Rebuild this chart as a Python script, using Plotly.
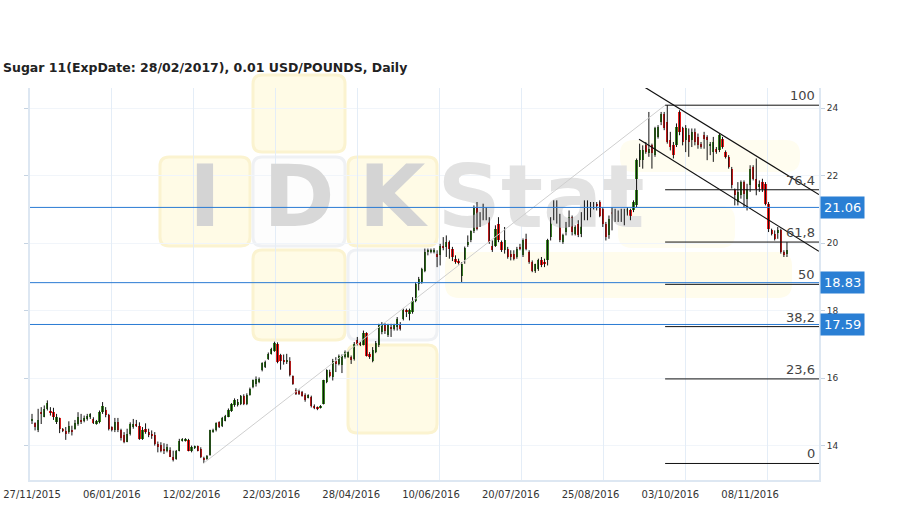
import plotly.graph_objects as go

TITLE = "Sugar 11(ExpDate: 28/02/2017), 0.01 USD/POUNDS, Daily"
tick_labels = ["27/11/2015", "06/01/2016", "12/02/2016", "22/03/2016", "28/04/2016",
               "10/06/2016", "20/07/2016", "25/08/2016", "03/10/2016", "08/11/2016"]
label_step = 26  # candles between date labels

opens = [14.74,14.66,14.45,14.99,14.84,15.09,15.04,14.99,14.69,14.81,
         14.50,14.42,14.40,14.47,14.50,14.64,14.76,14.72,14.79,14.84,
         14.79,14.64,14.69,14.99,15.06,14.91,14.55,14.47,14.69,14.45,
         14.30,14.12,14.35,14.55,14.64,14.57,14.20,14.50,14.40,14.35,
         14.32,14.05,14.03,13.90,13.85,13.88,13.67,13.61,13.85,14.13,
         14.15,14.18,13.83,13.95,13.98,13.90,13.64,13.61,13.73,14.40,
         14.45,14.69,14.57,14.74,14.86,15.02,15.19,15.20,15.24,15.46,
         15.24,15.51,15.73,15.83,15.88,16.23,16.33,16.57,16.72,16.80,
         17.00,16.68,16.55,16.50,16.52,16.05,15.65,15.63,15.58,15.51,
         15.44,15.45,15.18,15.13,15.12,15.24,15.88,16.17,16.03,16.52,
         16.42,16.38,16.62,16.64,16.62,16.57,17.12,17.03,16.99,17.33,
         16.72,16.52,16.77,16.97,17.36,17.56,17.27,17.50,17.46,17.51,
         17.56,17.76,18.03,17.91,17.96,18.30,18.80,18.85,19.19,19.74,
         19.75,19.74,19.67,19.64,19.93,19.89,20.03,19.84,19.54,19.47,
         19.04,19.49,19.94,20.08,20.35,21.07,20.53,20.97,20.97,20.72,
         19.93,19.93,20.58,20.03,19.79,19.84,19.69,19.69,19.59,19.89,
         19.64,20.13,19.74,19.44,19.19,19.24,19.49,19.44,19.49,20.18,
         20.72,20.97,20.82,20.03,20.33,20.53,20.77,20.28,20.58,20.28,
         20.87,21.17,20.82,21.07,21.15,21.22,21.02,20.58,20.23,20.92,
         20.92,20.68,20.87,20.63,20.87,20.97,20.97,21.12,22.46,22.46,
         22.90,22.66,22.90,22.61,23.15,23.60,23.84,23.60,23.05,22.90,
         22.90,23.89,23.40,23.05,23.20,23.05,23.30,23.15,22.95,23.20,
         23.15,22.90,22.70,22.80,22.75,23.10,22.70,22.56,22.21,21.57,
         21.22,21.42,21.81,21.32,21.72,22.26,21.91,21.67,21.81,21.76,
         21.17,20.38,20.28,20.33,20.38,19.74,19.69]

highs = [14.94,14.69,15.09,15.14,15.19,15.34,15.14,15.12,14.94,14.83,
         14.52,14.55,14.72,14.59,14.76,14.99,14.94,14.89,14.94,14.96,
         14.84,14.76,15.04,15.29,15.14,14.94,14.57,14.82,14.82,14.50,
         14.40,14.50,14.69,14.79,14.76,14.69,14.55,14.66,14.50,14.45,
         14.40,14.12,14.10,14.07,14.05,13.95,13.85,13.87,14.20,14.22,
         14.22,14.20,14.00,14.00,14.00,13.95,13.67,13.72,14.47,14.50,
         14.69,14.72,14.85,14.91,15.10,15.26,15.40,15.38,15.50,15.52,
         15.55,15.72,15.96,16.05,16.02,16.47,16.52,16.76,16.90,17.08,
         17.06,16.72,16.70,16.72,16.62,16.08,15.70,15.66,15.62,15.55,
         15.52,15.48,15.22,15.16,15.20,15.95,16.26,16.25,16.57,16.62,
         16.70,16.70,16.82,16.80,16.67,17.07,17.22,17.10,17.41,17.36,
         16.77,16.92,17.10,17.61,17.66,17.63,17.61,17.61,17.61,17.81,
         17.66,18.06,18.06,18.06,18.40,18.85,19.00,19.27,19.84,19.84,
         19.84,19.85,19.79,19.98,20.18,20.23,20.08,19.89,19.64,19.54,
         19.44,19.90,20.23,20.38,21.12,21.22,20.92,21.17,21.07,20.77,
         20.08,20.53,20.77,20.08,20.48,19.89,19.79,19.79,19.89,19.98,
         20.14,20.28,19.79,19.49,19.39,19.54,19.59,19.54,20.13,20.77,
         21.27,21.27,20.87,20.28,20.63,20.97,20.82,20.53,20.68,20.92,
         21.27,21.27,21.22,21.22,21.22,21.27,21.07,20.63,20.82,21.07,
         21.02,20.97,21.02,21.02,21.07,21.02,21.27,22.51,22.95,22.90,
         23.00,23.89,22.95,23.45,23.50,23.89,23.89,24.09,23.30,23.00,
         23.55,23.94,23.45,23.50,23.40,23.40,23.40,23.25,23.00,23.30,
         23.20,23.00,23.15,22.85,23.25,23.15,22.75,22.61,22.26,21.62,
         21.81,21.86,21.86,21.76,22.31,22.31,22.51,21.86,21.91,21.81,
         21.22,20.43,20.38,20.48,20.43,19.79,20.03]

lows = [14.64,14.45,14.40,14.64,14.84,15.04,14.89,14.76,14.64,14.37,
        14.40,14.17,14.35,14.30,14.47,14.59,14.64,14.69,14.74,14.79,
        14.64,14.62,14.66,14.94,14.84,14.45,14.42,14.40,14.40,14.15,
        14.07,14.10,14.30,14.50,14.55,14.17,14.17,14.35,14.25,14.20,
        14.00,13.80,13.80,13.75,13.80,13.66,13.53,13.58,13.83,14.12,
        14.12,13.83,13.80,13.90,13.83,13.63,13.48,13.58,13.70,14.38,
        14.42,14.52,14.55,14.72,14.84,15.00,15.15,15.16,15.20,15.20,
        15.20,15.48,15.70,15.75,15.85,16.20,16.30,16.54,16.70,16.78,
        16.44,16.25,16.40,16.42,16.05,15.80,15.50,15.50,15.45,15.30,
        15.40,15.13,15.08,15.05,15.10,15.22,15.85,16.02,15.93,16.18,
        16.38,16.15,16.58,16.60,16.42,16.52,16.97,16.95,16.97,16.64,
        16.57,16.47,16.74,16.92,17.30,17.31,17.22,17.22,17.41,17.41,
        17.41,17.71,17.81,17.71,17.91,18.25,18.60,18.80,19.14,19.64,
        19.70,19.70,19.29,19.34,19.79,19.59,19.54,19.47,19.39,19.37,
        18.85,19.39,19.89,20.03,20.30,20.38,20.48,20.68,20.68,19.98,
        19.74,19.89,20.03,19.74,19.69,19.54,19.49,19.49,19.54,19.79,
        19.59,19.79,19.39,19.14,19.12,19.18,19.29,19.29,19.34,20.08,
        20.68,20.58,20.03,19.98,20.23,20.48,20.23,20.23,20.18,20.18,
        20.68,20.68,20.77,21.00,20.97,20.77,20.48,20.08,20.13,20.38,
        20.63,20.63,20.63,20.53,20.82,20.68,20.92,21.07,22.26,22.21,
        22.65,22.56,22.21,22.56,23.10,23.50,23.35,22.95,22.75,22.51,
        22.85,23.20,22.90,22.70,22.56,22.85,22.90,22.80,22.80,22.80,
        22.46,22.61,22.41,22.65,22.70,22.80,22.51,22.21,21.62,21.12,
        21.12,21.32,21.07,20.97,21.52,21.86,21.42,21.52,21.52,21.12,
        20.33,20.23,20.08,20.13,19.69,19.59,19.59]

closes = [14.77,14.55,14.76,14.94,15.09,15.26,14.99,14.84,14.86,14.50,
          14.42,14.33,14.57,14.42,14.66,14.86,14.72,14.82,14.89,14.94,
          14.66,14.74,14.99,15.16,14.91,14.50,14.45,14.69,14.45,14.23,
          14.10,14.35,14.64,14.64,14.61,14.20,14.45,14.40,14.30,14.30,
          14.05,13.97,13.85,13.83,13.95,13.67,13.56,13.83,14.15,14.20,
          14.20,13.85,13.97,13.97,13.85,13.66,13.59,13.70,14.45,14.47,
          14.66,14.55,14.82,14.89,15.06,15.22,15.34,15.30,15.46,15.24,
          15.51,15.68,15.93,15.98,15.98,16.44,16.47,16.72,16.87,17.04,
          16.47,16.50,16.50,16.55,16.08,15.83,15.53,15.53,15.48,15.34,
          15.49,15.16,15.12,15.09,15.16,15.93,16.23,16.07,16.52,16.42,
          16.67,16.67,16.77,16.77,16.54,17.02,17.02,17.00,17.33,16.67,
          16.62,16.82,17.04,17.56,17.61,17.41,17.56,17.46,17.56,17.76,
          17.46,18.03,17.96,18.01,18.30,18.80,18.95,19.24,19.74,19.79,
          19.79,19.81,19.59,19.93,19.87,20.03,19.84,19.59,19.44,19.44,
          19.39,19.85,20.03,20.35,21.05,20.43,20.82,20.77,20.82,20.03,
          19.79,20.43,20.08,19.79,20.08,19.59,19.59,19.54,19.84,19.84,
          20.08,19.84,19.44,19.19,19.39,19.49,19.34,19.41,20.08,20.72,
          20.97,20.77,20.08,20.23,20.53,20.77,20.33,20.48,20.23,20.63,
          21.17,20.72,21.07,21.17,21.12,20.82,20.58,20.18,20.72,20.87,
          20.82,20.87,20.68,20.92,21.02,20.72,21.22,22.46,22.75,22.75,
          22.70,22.80,22.66,23.40,23.45,23.84,23.40,23.00,22.85,22.61,
          23.45,23.30,23.00,23.40,23.00,23.30,23.00,22.90,22.85,23.10,
          23.05,22.95,23.00,22.70,23.20,22.85,22.56,22.26,21.72,21.42,
          21.52,21.81,21.47,21.62,22.21,21.91,21.62,21.76,21.62,21.17,
          20.43,20.28,20.13,20.38,19.74,19.64,19.79]

assert len(opens) == len(highs) == len(lows) == len(closes)

level_values = [21.06, 18.83, 17.59]
fib_low, fib_high = 13.47, 24.09
fib_ratios = [0, 23.6, 38.2, 50, 61.8, 76.4, 100]
fib_start = 206.3
trend_x, trend_y = [55.8, 206.3], [13.47, 24.09]
upper_x, upper_y = [199.7, 256.4], [24.62, 21.44]
lower_x, lower_y = [197.8, 256.4], [23.08, 19.76]
y_ticks = [14, 16, 18, 20, 22, 24]

# ---------------- layout geometry ----------------
W, H = 909, 509
L, R, T, B = 30, 819, 88, 480
X_RANGE = [-0.652, 256.44]
Y_RANGE = [12.98, 24.60]
FONT = "DejaVu Sans"

n = len(opens)
idx = list(range(n))

def px2paper(px, py):
    return (px - L) / (R - L), (B - py) / (B - T)

def rrect(x0, y0, x1, y1, r=9):
    pts = [("M", [(x0 + r, y0)]), ("L", [(x1 - r, y0)]), ("Q", [(x1, y0), (x1, y0 + r)]),
           ("L", [(x1, y1 - r)]), ("Q", [(x1, y1), (x1 - r, y1)]), ("L", [(x0 + r, y1)]),
           ("Q", [(x0, y1), (x0, y1 - r)]), ("L", [(x0, y0 + r)]), ("Q", [(x0, y0), (x0 + r, y0)])]
    s = ""
    for cmd, ps in pts:
        s += cmd + " " + " ".join("%.5f,%.5f" % px2paper(a, b) for a, b in ps) + " "
    return s + "Z"

def px2data(px, py):
    i = X_RANGE[0] + (px - L) / (R - L) * (X_RANGE[1] - X_RANGE[0])
    v = Y_RANGE[1] - (py - T) / (B - T) * (Y_RANGE[1] - Y_RANGE[0])
    return i, v

fig = go.Figure()

# watermark letters (drawn first, below candles)
wm = [("I", 205, 204, 86, "#d4d4d4"), ("D", 299, 204, 86, "#d8d8d8"),
      ("K", 392, 204, 86, "#d4d4d4"), ("Stat", 541, 205, 88, "#e2e2e2")]
for t, px, py, sz, col in wm:
    xi, yv = px2data(px, py)
    fig.add_trace(go.Scatter(x=[xi], y=[yv], mode="text", text=[t], cliponaxis=False,
                             textfont=dict(family=FONT, size=sz, color=col, weight="bold"),
                             hoverinfo="skip", showlegend=False))

# wicks
wx, wy = [], []
for i in idx:
    wx += [i, i, None]
    wy += [lows[i], highs[i], None]
fig.add_trace(go.Scatter(x=wx, y=wy, mode="lines", line=dict(color="#111111", width=1),
                         hoverinfo="skip", showlegend=False))

# bodies
base = [min(o, c) for o, c in zip(opens, closes)]
hgt = [max(abs(c - o), 0.03) for o, c in zip(opens, closes)]
cols = ["#3b8a25" if c >= o else "#f01d1d" for o, c in zip(opens, closes)]
fig.add_trace(go.Bar(x=idx, y=hgt, base=base, width=0.72, marker=dict(color=cols, line=dict(width=0)),
                     showlegend=False, hoverinfo="skip"))

# gray trend line & channel
fig.add_trace(go.Scatter(x=trend_x, y=trend_y, mode="lines", line=dict(color="#cfcfcf", width=1),
                         showlegend=False, hoverinfo="skip"))
for xs, ys in [(upper_x, upper_y), (lower_x, lower_y)]:
    fig.add_trace(go.Scatter(x=xs, y=ys, mode="lines", line=dict(color="#111111", width=1.2),
                             showlegend=False, hoverinfo="skip"))

# fibonacci levels
annotations = []
for r in fib_ratios:
    lv = fib_low + (fib_high - fib_low) * r / 100.0
    fig.add_trace(go.Scatter(x=[fib_start, X_RANGE[1]], y=[lv, lv], mode="lines",
                             line=dict(color="#111111", width=1), showlegend=False, hoverinfo="skip"))
    lab = ("%g" % r).replace(".", ",")
    annotations.append(dict(x=1, xref="paper", y=lv, yref="y", text=lab, showarrow=False,
                            xanchor="right", yanchor="bottom", xshift=-2, yshift=0,
                            font=dict(family=FONT, size=13, color="#444444")))

# dummy trace for overlay axes (vertical grid + left ticks)
fig.add_trace(go.Scatter(x=[0], y=[20], xaxis="x2", yaxis="y2", mode="markers",
                         marker=dict(opacity=0), showlegend=False, hoverinfo="skip"))

shapes = []
# watermark: faint band behind the right part of the logo
for x0, y0, x1, y1, col in [(445, 252, 792, 298, "#fffcec"), (620, 140, 800, 172, "#fffdf0"),
                            (618, 206, 735, 248, "#fffdf0")]:
    shapes.append(dict(type="path", path=rrect(x0, y0, x1, y1, 14), xref="paper", yref="paper",
                       fillcolor=col, line=dict(width=0), layer="below"))
# watermark squares
yellow_sq = [(253, 75, 345, 152), (160, 157, 250, 246), (348, 157, 437, 246),
             (253, 250, 345, 340), (348, 345, 437, 433)]
white_sq = [(253, 157, 345, 246), (348, 250, 437, 340)]
for x0, y0, x1, y1 in yellow_sq:
    shapes.append(dict(type="path", path=rrect(x0, y0, x1, y1), xref="paper", yref="paper",
                       fillcolor="#fffbe6", line=dict(color="#fbf3d0", width=3), layer="below"))
for x0, y0, x1, y1 in white_sq:
    shapes.append(dict(type="path", path=rrect(x0, y0, x1, y1), xref="paper", yref="paper",
                       fillcolor="#fdfdfd", line=dict(color="#eff1f4", width=3), layer="below"))

# blue horizontal levels
for lv in level_values:
    shapes.append(dict(type="line", xref="paper", x0=0, x1=1, yref="y", y0=lv, y1=lv,
                       line=dict(color="#2a7bd3", width=1), layer="above"))
    annotations.append(dict(x=1, xref="paper", y=lv, yref="y", text="%.2f" % lv, showarrow=False,
                            xanchor="left", yanchor="middle", xshift=1,
                            bgcolor="#2a7fd4", borderpad=3,
                            font=dict(family=FONT, size=13, color="#ffffff")))

grid_vals = [X_RANGE[0] + k * 26.69 for k in range(10)]

fig.update_layout(
    width=W, height=H,
    margin=dict(l=L, r=W - R, t=T, b=H - B, pad=0, autoexpand=False),
    paper_bgcolor="#ffffff", plot_bgcolor="#ffffff",
    showlegend=False, bargap=0,
    title=dict(text="<b>" + TITLE + "</b>", x=3 / W, xanchor="left", xref="container",
               y=1 - 68 / H, yanchor="middle", yref="container", automargin=False,
               font=dict(family=FONT, size=12.5, color="#222222")),
    xaxis=dict(range=X_RANGE, tickmode="array", tickvals=[k * label_step for k in range(len(tick_labels))],
               ticktext=tick_labels, showgrid=False, zeroline=False, ticks="", automargin=False,
               showline=True, linecolor="#dde7f2", linewidth=2, ticklabelstandoff=4,
               tickfont=dict(family=FONT, size=10, color="#333333"), fixedrange=True),
    xaxis2=dict(range=X_RANGE, overlaying="x", tickmode="array", tickvals=grid_vals,
                showticklabels=False, showgrid=True, gridcolor="#e4edf7", gridwidth=1,
                zeroline=False, ticks="", showline=False, automargin=False),
    yaxis=dict(range=Y_RANGE, side="right", tickmode="array", tickvals=y_ticks, automargin=False,
               ticks="outside", ticklen=4, tickcolor="#c5d3e2", showgrid=True, gridcolor="#f1f5fa",
               zeroline=False, showline=True, linecolor="#dde7f2", linewidth=2,
               tickfont=dict(family=FONT, size=9, color="#333333"), fixedrange=True),
    yaxis2=dict(range=Y_RANGE, overlaying="y", side="left", tickmode="array", tickvals=y_ticks,
                ticks="outside", ticklen=4, tickcolor="#c5d3e2", showticklabels=False, automargin=False,
                showgrid=False, zeroline=False, showline=True, linecolor="#dde7f2", linewidth=2),
    shapes=shapes, annotations=annotations,
)

fig.write_html("out.html", config={"displayModeBar": False},
               post_script="document.body.style.margin='0';document.body.style.overflow='hidden';")
